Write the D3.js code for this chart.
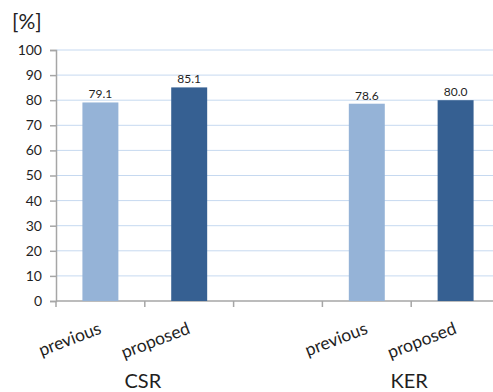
<!DOCTYPE html>
<html>
<head>
<meta charset="utf-8">
<script src="https://cdn.jsdelivr.net/npm/d3@7"></script>
<style>
  body { margin: 0; background: #fff; }
  svg { display: block; font-family: Lato, "Open Sans", sans-serif; }
</style>
</head>
<body>
<svg width="493" height="392"></svg>
<script>
// data
const slots = ["csr-prev", "csr-prop", "gap", "ker-prev", "ker-prop"];
const slotLabels = ["previous", "proposed", "", "previous", "proposed"];
const values = [79.1, 85.1, null, 78.6, 80.0];
const groups = ["CSR", "KER"];
const groupSlots = [["csr-prev", "csr-prop"], ["ker-prev", "ker-prop"]];
const yTicks = [0, 10, 20, 30, 40, 50, 60, 70, 80, 90, 100];

const colors = { prev: "#95b3d7", prop: "#366092" };

let svg = d3.select("svg");

const x = d3.scaleBand().domain(slots).range([56, 500]);
const y = d3.scaleLinear().domain([0, 100]).range([301, 50]);

// gridlines
svg.append("g")
  .selectAll("line")
  .data(yTicks.filter((d) => d > 0))
  .enter()
  .append("line")
  .attr("x1", 56)
  .attr("x2", 493)
  .attr("y1", (d) => y(d))
  .attr("y2", (d) => y(d))
  .attr("stroke", "#c6d9f0")
  .attr("stroke-width", 1);

// y axis
const yAxis = svg.append("g")
  .attr("transform", "translate(56,0)")
  .call(d3.axisLeft(y).tickValues(yTicks).tickSize(6).tickPadding(8));
yAxis.select(".domain").attr("stroke", "#a6a6a6").attr("stroke-width", 1.5);
yAxis.selectAll(".tick line").attr("stroke", "#a6a6a6").attr("stroke-width", 1.5);
yAxis.selectAll(".tick text")
  .attr("font-size", 14)
  .attr("fill", "#1f1f1f")
  .style("font-family", "Lato, sans-serif");

// x axis line + ticks at slot boundaries
const bounds = slots.map((d) => x(d)).concat([x.range()[1]]);
svg.append("line")
  .attr("x1", 56).attr("x2", 493)
  .attr("y1", y(0)).attr("y2", y(0))
  .attr("stroke", "#a6a6a6").attr("stroke-width", 1.5);
svg.append("g")
  .selectAll("line")
  .data(bounds)
  .enter()
  .append("line")
  .attr("x1", (d) => d).attr("x2", (d) => d)
  .attr("y1", y(0)).attr("y2", y(0) + 6)
  .attr("stroke", "#a6a6a6").attr("stroke-width", 1.5);

// bars
const barW = x.bandwidth() * 0.405;
const barData = slots.map((s, i) => ({ s, v: values[i], i })).filter((d) => d.v !== null);

svg.append("g")
  .selectAll("rect")
  .data(barData)
  .enter()
  .append("rect")
  .attr("x", (d) => x(d.s) + (x.bandwidth() - barW) / 2)
  .attr("y", (d) => y(d.v))
  .attr("width", barW)
  .attr("height", (d) => y(0) - y(d.v))
  .attr("fill", (d) => (d.s.endsWith("prev") ? colors.prev : colors.prop));

// value labels
svg.append("g")
  .selectAll("text")
  .data(barData)
  .enter()
  .append("text")
  .attr("x", (d) => x(d.s) + x.bandwidth() / 2)
  .attr("y", (d) => y(d.v) - 4)
  .attr("text-anchor", "middle")
  .attr("font-size", 12)
  .attr("fill", "#1f1f1f")
  .text((d) => d.v.toFixed(1));

// rotated category labels
svg.append("g")
  .selectAll("text")
  .data(slots.map((s, i) => ({ s, label: slotLabels[i] })).filter((d) => d.label))
  .enter()
  .append("text")
  .attr("transform", (d) => `translate(${x(d.s) + x.bandwidth() / 2 + 2},333) rotate(-21)`)
  .attr("text-anchor", "end")
  .attr("font-size", 17.5)
  .attr("fill", "#1f1f1f")
  .text((d) => d.label);

// group labels
svg.append("g")
  .selectAll("text")
  .data(groups)
  .enter()
  .append("text")
  .attr("x", (d, i) => (x(groupSlots[i][0]) + x(groupSlots[i][1]) + x.bandwidth()) / 2 - 2)
  .attr("y", 388)
  .attr("text-anchor", "middle")
  .attr("font-size", 20)
  .attr("fill", "#1f1f1f")
  .text((d) => d);

// unit label
svg.append("text")
  .attr("x", 12)
  .attr("y", 29)
  .attr("font-size", 21)
  .attr("fill", "#1f1f1f")
  .text("[%]");
</script>
</body>
</html>
